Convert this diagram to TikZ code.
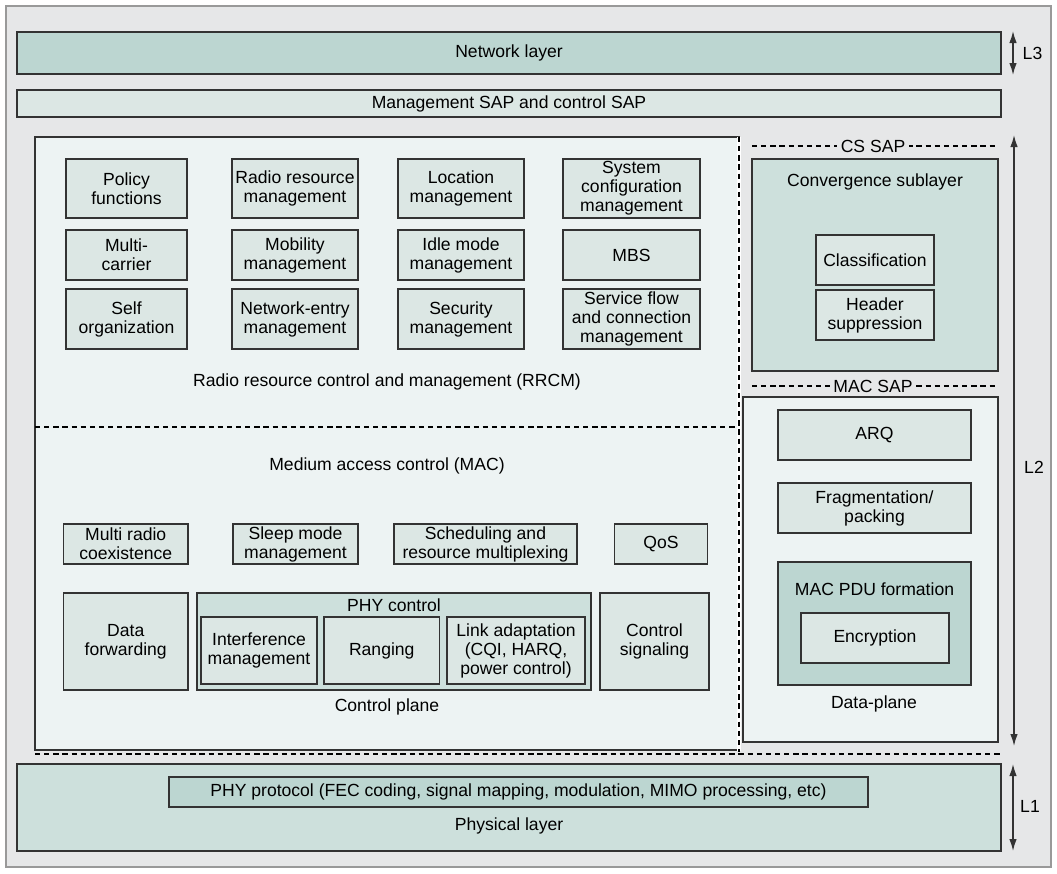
\documentclass[tikz,border=0pt]{standalone}
\usepackage{fontspec}
\setmainfont{Liberation Sans}
\usetikzlibrary{positioning, arrows.meta}
\definecolor{bggray}{HTML}{E6E7E8}
\definecolor{panelfill}{HTML}{EDF3F3}
\definecolor{boxfill}{HTML}{DCE7E4}
\definecolor{midfill}{HTML}{CDE0DC}
\definecolor{darkfill}{HTML}{BCD6D1}
\definecolor{edge}{HTML}{333333}

\begin{document}
\begin{tikzpicture}[x=0.02cm, y=-0.02cm,
	every node/.style={font=\fontsize{10}{10.8}\selectfont, align=center},
	block/.style={draw=edge, line width=0.8pt, rectangle, fill=boxfill, inner sep=1pt},
	sap/.style={draw=black, line width=1.2pt, dash pattern=on 3pt off 2.2pt},
	saplabel/.style={fill=bggray, inner sep=2pt},
	span/.style={draw=edge, line width=0.8pt, {Latex[length=2.4mm,width=1.5mm]}-{Latex[length=2.4mm,width=1.5mm]}}]
	\useasboundingbox (0,0) rectangle (1057,873);
	\draw[draw=gray!80, fill=bggray, line width=0.8pt] (6,6) rectangle (1051,867);

	%layer 3
	\node[block, fill=darkfill, minimum width=19.68cm, minimum height=0.84cm] (net) at (509,53) {Network layer};
	\node[block, minimum width=19.68cm, minimum height=0.54cm] (msap) at (509,103.5) {Management SAP and control SAP};
	\coordinate (l3top) at (1013,31);
	\coordinate (l3bot) at (1013,75);
	\draw[span] (l3top) -- (l3bot);
	\node[right=2pt of l3top, yshift=-0.44cm] (l3) {L3};

	%control plane panel
	\node[block, fill=panelfill, minimum width=14.08cm, minimum height=12.26cm] (panel) at (387,443.5) {};
	\draw[white, line width=2.5pt] (739,137) -- (739,751);
	\draw[sap] (739,137) -- (739,752);
	\draw[sap] (35,427) -- (737,427);

	%RRCM
	\node[block, minimum width=2.42cm, minimum height=1.18cm] (policy) at (126.5,188.5) {Policy\\functions};
	\node[block, minimum width=2.52cm, minimum height=1.18cm] (rrm) at (295,188.5) {Radio resource\\management};
	\node[block, minimum width=2.52cm, minimum height=1.18cm] (loc) at (461,188.5) {Location\\management};
	\node[block, minimum width=2.74cm, minimum height=1.18cm] (syscfg) at (631.5,188.5) {System\\configuration\\management};
	\node[block, minimum width=2.42cm, minimum height=1.0cm] (multic) at (126.5,255) {Multi-\\carrier};
	\node[block, minimum width=2.52cm, minimum height=1.0cm] (mob) at (295,255) {Mobility\\management};
	\node[block, minimum width=2.52cm, minimum height=1.0cm] (idle) at (461,255) {Idle mode\\management};
	\node[block, minimum width=2.74cm, minimum height=1.0cm] (mbs) at (631.5,255) {MBS};
	\node[block, minimum width=2.42cm, minimum height=1.2cm] (selforg) at (126.5,319) {Self\\organization};
	\node[block, minimum width=2.52cm, minimum height=1.2cm] (netentry) at (295,319) {Network-entry\\management};
	\node[block, minimum width=2.52cm, minimum height=1.2cm] (sec) at (461,319) {Security\\management};
	\node[block, minimum width=2.74cm, minimum height=1.2cm] (sflow) at (631.5,319) {Service flow\\and connection\\management};
	\node (rrcm) at (387,382) {Radio resource control and management (RRCM)};

	%MAC
	\node (mac) at (387,466) {Medium access control (MAC)};
	\node[block, minimum width=2.49cm, minimum height=0.8cm] (multir) at (125.75,544) {Multi radio\\coexistence};
	\node[block, minimum width=2.5cm, minimum height=0.8cm] (sleep) at (295.5,544) {Sleep mode\\management};
	\node[block, minimum width=3.66cm, minimum height=0.8cm] (sched) at (485.5,544) {Scheduling and\\resource multiplexing};
	\node[block, minimum width=1.87cm, minimum height=0.8cm] (qos) at (661,544) {QoS};
	\node[block, minimum width=2.49cm, minimum height=1.94cm] (dfwd) at (125.75,641.5) {Data\\forwarding};
	\node[block, fill=midfill, minimum width=7.88cm, minimum height=1.94cm] (phyctrl) at (394,641.5) {};
	\node (phyctrltxt) at (394,605) {PHY control};
	\node[block, minimum width=2.32cm, minimum height=1.34cm] (interf) at (259,650.5) {Interference\\management};
	\node[block, minimum width=2.31cm, minimum height=1.34cm] (ranging) at (381.75,650.5) {Ranging};
	\node[block, minimum width=2.76cm, minimum height=1.34cm] (link) at (516,650.5) {Link adaptation\\(CQI, HARQ,\\power control)};
	\node[block, minimum width=2.18cm, minimum height=1.94cm] (ctrlsig) at (654.5,641.5) {Control\\signaling};
	\node (cplane) at (387,707) {Control plane};

	%convergence sublayer
	\draw[sap] (752,146) -- (997,146);
	\node[saplabel] (cssap) at (873,146) {CS SAP};
	\node[block, fill=midfill, minimum width=4.92cm, minimum height=4.24cm] (conv) at (875,265) {};
	\node (convtxt) at (875,182) {Convergence sublayer};
	\node[block, minimum width=2.36cm, minimum height=1.0cm] (classif) at (875,260) {Classification};
	\node[block, minimum width=2.36cm, minimum height=1.0cm] (hdr) at (875,315) {Header\\suppression};

	%data plane
	\draw[sap] (752,386) -- (997,386);
	\node[saplabel] (macsap) at (873,386) {MAC SAP};
	\node[block, fill=panelfill, minimum width=5.1cm, minimum height=6.9cm] (dplane) at (870.5,569.5) {};
	\node[block, minimum width=3.86cm, minimum height=1.0cm] (arq) at (874.5,435) {ARQ};
	\node[block, minimum width=3.86cm, minimum height=1.0cm] (frag) at (874.5,508) {Fragmentation/\\packing};
	\node[block, fill=darkfill, minimum width=3.86cm, minimum height=2.46cm] (pdu) at (874.5,623.5) {};
	\node (pdutxt) at (874.5,589) {MAC PDU formation};
	\node[block, minimum width=2.96cm, minimum height=1.0cm] (enc) at (875,638) {Encryption};
	\node (dplanetxt) at (874,704) {Data-plane};
	\coordinate (l2top) at (1014,135);
	\coordinate (l2bot) at (1014,746);
	\draw[span] (l2top) -- (l2bot);
	\node (l2) at (1034,467) {L2};

	%layer 1
	\draw[sap] (35,754) -- (1003,754);
	\node[block, fill=midfill, minimum width=19.68cm, minimum height=1.74cm] (phy) at (509,807.5) {};
	\node[block, fill=darkfill, minimum width=13.98cm, minimum height=0.6cm] (phyproto) at (518.5,792) {PHY protocol (FEC coding, signal mapping, modulation, MIMO processing, etc)};
	\node (phytxt) at (509,826) {Physical layer};
	\coordinate (l1top) at (1013,764);
	\coordinate (l1bot) at (1013,851);
	\draw[span] (l1top) -- (l1bot);
	\node (l1) at (1030,806) {L1};
\end{tikzpicture}
\end{document}
